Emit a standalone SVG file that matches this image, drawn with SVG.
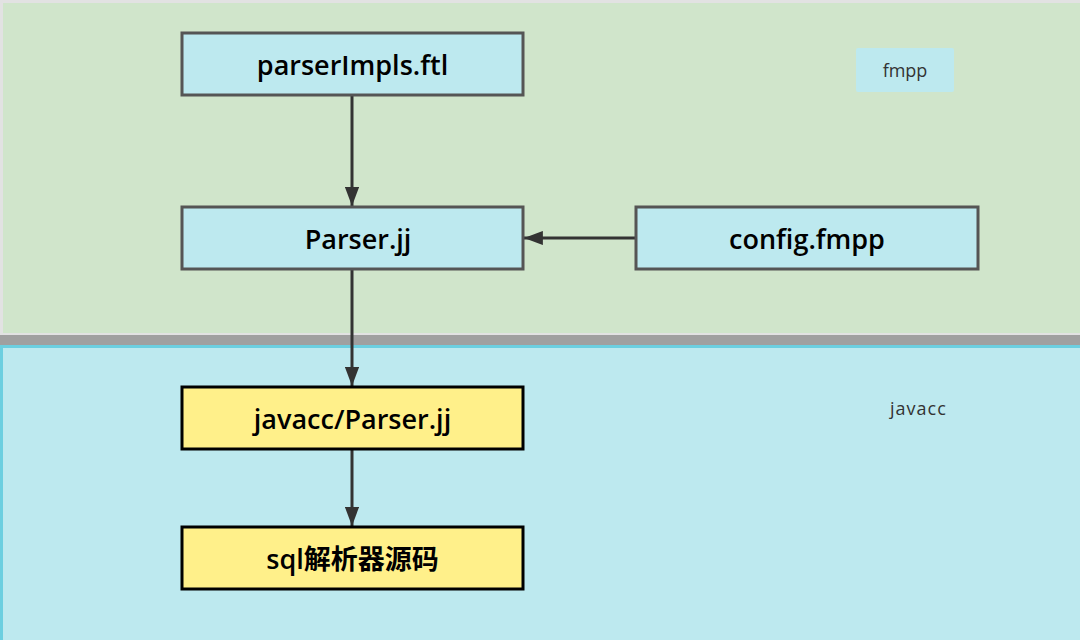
<svg xmlns="http://www.w3.org/2000/svg" width="1080" height="640" viewBox="0 0 1080 640">
<defs>
<style>
.bg-top{fill:#d0e5cb;stroke:#e2e2e2;stroke-width:3}
.bg-bot{fill:#bde9ef;stroke:#6ccfe0;stroke-width:3}
.band{fill:#a0a0a0}
.blue{fill:#bde9ef;stroke:#555;stroke-width:3}
.yellow{fill:#fff08a;stroke:#000;stroke-width:3}
.lbl{font-family:"Open Sans","Noto Sans CJK SC",sans-serif;font-size:27px;font-weight:600;fill:#000;text-anchor:middle;dominant-baseline:central}
.tag{font-family:"Open Sans",sans-serif;font-size:18px;fill:#333}
.conn{stroke:#333;stroke-width:3;fill:none;marker-end:url(#arr)}
</style>
<marker id="arr" viewBox="0 0 10 10" refX="10" refY="5" markerWidth="6.3" markerHeight="4.7" markerUnits="strokeWidth" orient="auto" preserveAspectRatio="none">
<path d="M0,0 L10,5 L0,10 z" fill="#333"/>
</marker>
</defs>
<g id="regions">
<rect class="bg-top" x="1.5" y="1.5" width="1080" height="333"/>
<rect class="band" x="0" y="335" width="1080" height="10"/>
<rect class="bg-bot" x="1.5" y="346.5" width="1080" height="300"/>
<rect x="856" y="48" width="98" height="44" rx="2" fill="#bde9ef"/>
<text class="tag" x="905" y="77" text-anchor="middle">fmpp</text>
<text class="tag" x="890" y="415" letter-spacing="1">javacc</text>
</g>
<g id="connectors">
<line class="conn" x1="352" y1="96" x2="352" y2="206"/>
<line class="conn" x1="636" y1="238" x2="524" y2="238"/>
<line class="conn" x1="352" y1="270" x2="352" y2="386"/>
<line class="conn" x1="352" y1="450" x2="352" y2="526"/>
</g>
<g id="n-parserImpls">
<rect class="blue" x="182" y="33" width="341" height="62"/>
<text class="lbl" x="352.5" y="64">parserImpls.ftl</text>
</g>
<g id="n-parser">
<rect class="blue" x="182" y="207" width="341" height="62"/>
<text class="lbl" x="358" y="238">Parser.jj</text>
</g>
<g id="n-config">
<rect class="blue" x="636" y="207" width="342" height="62"/>
<text class="lbl" x="807" y="238">config.fmpp</text>
</g>
<g id="n-javacc-parser">
<rect class="yellow" x="182" y="387" width="341" height="62"/>
<text class="lbl" x="352.5" y="418">javacc/Parser.jj</text>
</g>
<g id="n-sql">
<rect class="yellow" x="182" y="527" width="341" height="62"/>
<text class="lbl" x="352.5" y="558">sql解析器源码</text>
</g>
</svg>
